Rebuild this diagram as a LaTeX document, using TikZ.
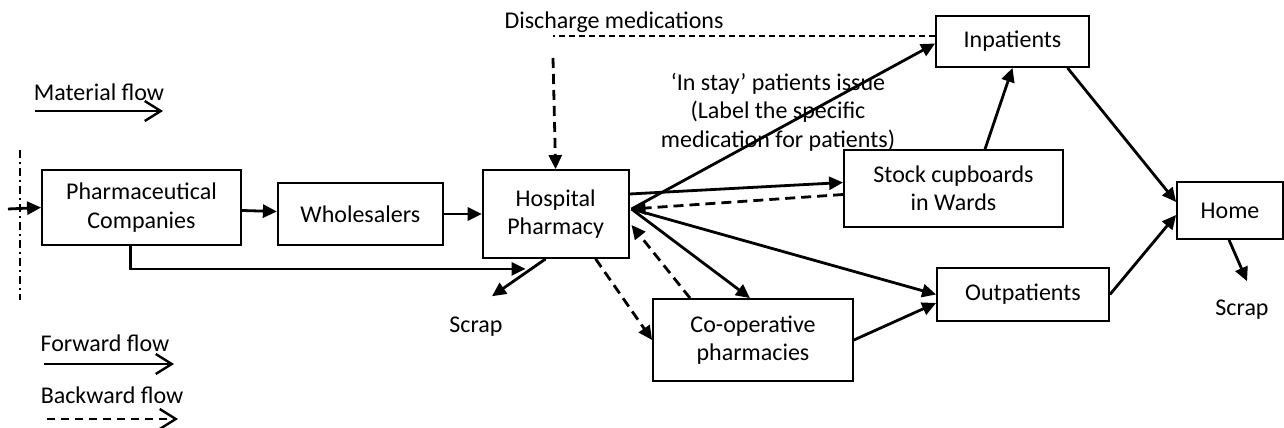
\documentclass[tikz,border=0pt]{standalone}
\usepackage{fontspec}
\setmainfont{Carlito}
\usetikzlibrary{arrows.meta,calc,positioning}

\begin{document}
\begin{tikzpicture}[x=0.5pt,y=-0.5pt,node distance=17.5pt and 17.5pt,
  font=\fontsize{12}{14.2}\selectfont,
  box/.style={draw,line width=0.9pt,align=center,inner sep=0pt},
  ar/.style={-{Triangle[length=7pt,width=6.5pt]},line width=1.4pt},
  bk/.style={ar,dash pattern=on 5pt off 3pt},
  lg/.style={-{Straight Barb[length=8pt,width=10pt]},line width=1.2pt}]
  \useasboundingbox (0,0) rectangle (1284,428);
  \node[box,minimum width=99.5pt,minimum height=37.5pt] (PC) at (141.5,207.5) {Pharmaceutical\\Companies};
  \node[box,minimum width=82.5pt,minimum height=31pt,right=17.5pt of PC,yshift=-3.25pt] (Wh) {Wholesalers};
  \node[box,minimum width=73pt,minimum height=44pt,right=19pt of Wh] (HP) {Hospital\\Pharmacy};
  \node[box,minimum width=109.5pt,minimum height=38.5pt] (Stk) at (953.5,188.5) {Stock cupboards\\in Wards};
  \node[box,minimum width=76.5pt,minimum height=25.5pt] (Inp) at (1012.5,41.5) {Inpatients};
  \node[box,minimum width=86pt,minimum height=26.5pt] (Outp) at (1023,294.5) {Outpatients};
  \node[box,minimum width=100pt,minimum height=41pt] (CO) at (753,340) {Co-operative\\pharmacies};
  \node[box,minimum width=53pt,minimum height=28.5pt] (Home) at (1230,210.5) {Home};
  \node (scrA) at (476,327) {Scrap};
  \node (scrB) at (1242,310) {Scrap};
  \node (dis) at (614,22) {Discharge medications};
  \node[align=center] (iss) at (778,112) {`In stay' patients issue\\(Label the specific\\medication for patients)};
  \node (mf) at (99,92) {Material flow};
  \node (ff) at (105,343) {Forward flow};
  \node (bf) at (112,395) {Backward flow};
  \coordinate (in) at (8,209);
  \coordinate (hub) at ($(HP.east)+(2,-5)$);
  \coordinate (dc) at (553,36);
  \coordinate (dtop) at (553,58);
  \draw[line width=0.9pt,dash pattern=on 4pt off 2pt on 1pt off 2pt] (20,150) -- (20,300);
  \draw[ar] (in) -- (PC.west);
  \draw[ar] (PC) -- (Wh);
  \draw[ar] (Wh) -- (HP);
  \draw[ar] ($(PC.south)+(-11,0)$) |- ($(HP.south)+(-30,10)$);
  \draw[ar] ($(HP.south)+(-10,0)$) -- ($(scrA.north)+(16,-14)$);
  \draw[ar] (hub) -- ($(Inp.west)+(0,2)$);
  \draw[ar] ($(HP.east)+(0,-20)$) -- ($(Stk.west)+(0,-6)$);
  \draw[bk] ($(Stk.west)+(0,6)$) -- (hub);
  \draw[ar] (hub) -- ($(CO.north)+(-3,0)$);
  \draw[ar] (hub) -- (Outp.west);
  \draw[bk] ($(CO.north)+(-63,0)$) -- ($(HP.east)+(2,11)$);
  \draw[bk] ($(HP.south)+(40,0)$) -- (CO.west);
  \draw[ar] (CO.east) -- ($(Outp.west)+(0,8.5)$);
  \draw[ar] (Outp.east) -- ($(Home.west)+(0,4.5)$);
  \draw[ar] ($(Inp.south)+(55,0)$) -- ($(Home.west)+(0,-8.5)$);
  \draw[ar] ($(Stk.north)+(31.5,0)$) -- (Inp.south);
  \draw[ar] ($(Home.south)+(-1,0)$) -- ($(scrB.north)+(5,-12)$);
  \draw[line width=0.9pt,dash pattern=on 3pt off 2pt] (Inp.west |- dc) -- (dc);
  \draw[bk] (dtop) -- (HP.north);
  \draw[lg] (35,111) coordinate (mfa) -- (163,111) coordinate (mfb);
  \draw[lg] (44,364) coordinate (ffa) -- (174,364) coordinate (ffb);
  \draw[lg,dash pattern=on 4pt off 3pt] (47,419) coordinate (bfa) -- (178,419) coordinate (bfb);
\end{tikzpicture}
\end{document}
